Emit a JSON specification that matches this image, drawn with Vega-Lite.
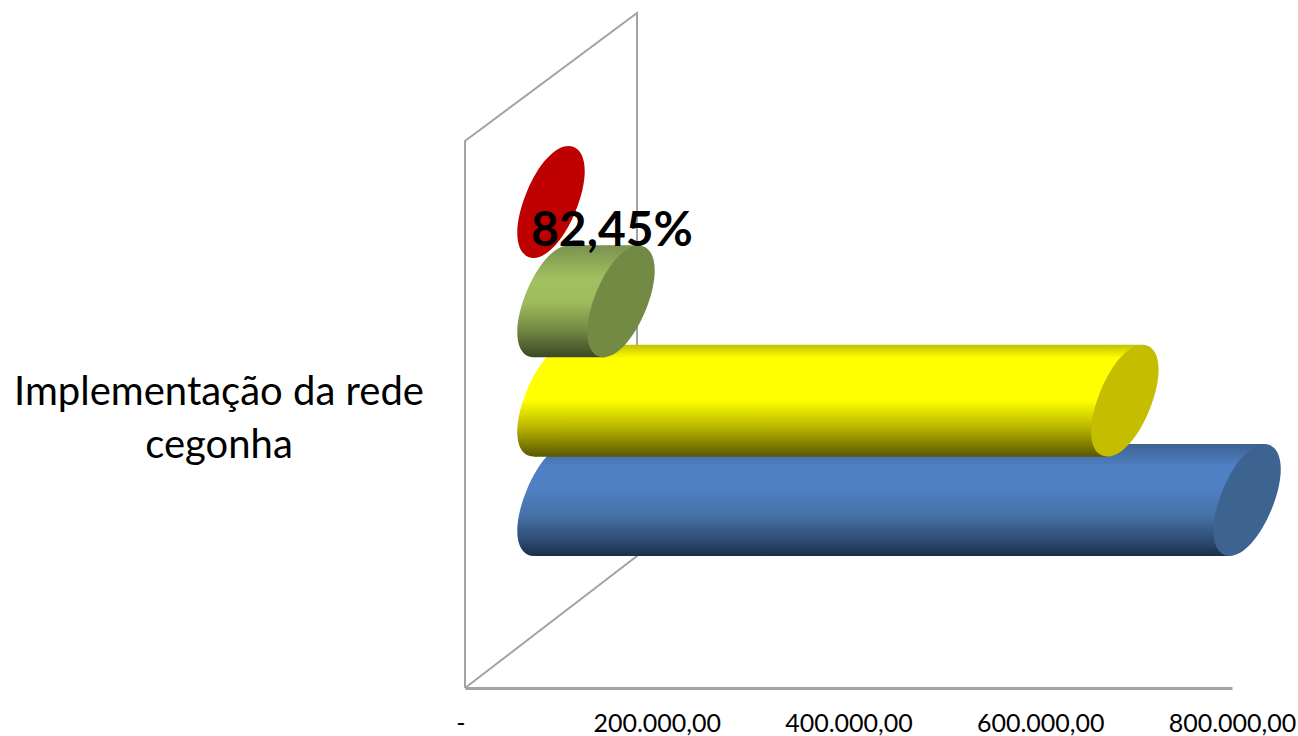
{"$schema":"https://vega.github.io/schema/vega-lite/v6.json","width":767,"height":688,"autosize":"none","padding":{"left":465,"top":0,"right":66,"bottom":48},"background":"white","view":{"stroke":null},"config":{"font":"Lato"},"datasets":{"bars":[{"serie":"Vermelho","valor":0},{"serie":"Verde","valor":73000},{"serie":"Amarelo","valor":598600},{"serie":"Azul","valor":726000}],"parede":[{"i":1,"x":0,"h":0},{"i":2,"x":0,"h":547},{"i":3,"x":179400,"h":675},{"i":4,"x":179400,"h":132},{"i":5,"x":0,"h":0}],"rotulos":[{"texto":"82,45%","x":153300,"h":456}],"categoria":[{"texto":"Implementação da rede\ncegonha","x":0,"h":295}]},"resolve":{"scale":{"y":"independent"}},"layer":[{"data":{"name":"parede"},"mark":{"type":"line","color":"#a3a3a3","strokeWidth":2,"interpolate":"linear"},"encoding":{"order":{"field":"i","type":"quantitative"},"x":{"field":"x","type":"quantitative","title":null,"scale":{"domain":[0,800000],"nice":false,"zero":false},"axis":{"values":[0,200000,400000,600000,800000],"grid":false,"ticks":false,"domain":true,"domainColor":"#a3a3a3","domainWidth":3,"labelFont":"Lato","labelFontSize":25,"labelColor":"#000000","labelPadding":23,"labelOverlap":false,"labelFlush":false,"labelAlign":{"condition":{"test":"datum.value==0","value":"right"},"value":"center"},"labelExpr":"datum.value==0?'-':(datum.value/1000)+'.000,00'"}},"y":{"field":"h","type":"quantitative","axis":null,"scale":{"domain":[0,688],"range":[688,0],"nice":false}}}},{"data":{"name":"bars"},"encoding":{"y":{"field":"serie","type":"nominal","axis":null,"scale":{"type":"point","domain":["Vermelho","Verde","Amarelo","Azul"],"range":[202,500],"padding":0}}},"layer":[{"transform":[{"filter":"datum.serie=='Azul'"}],"mark":{"type":"bar","orient":"horizontal","height":112,"xOffset":68,"x2Offset":104,"color":{"x1":0,"y1":0,"x2":0,"y2":1,"gradient":"linear","stops":[{"offset":0,"color":"#3d6292"},{"offset":0.2,"color":"#4f80c4"},{"offset":0.4,"color":"#4f80c4"},{"offset":0.65,"color":"#456fa5"},{"offset":0.85,"color":"#2f4e75"},{"offset":1,"color":"#1b2f4a"}]}},"encoding":{"x":{"field":"valor","type":"quantitative"},"x2":{"datum":0}}},{"transform":[{"filter":"datum.serie=='Azul'"}],"mark":{"type":"point","shape":"M0.3 -1L0.33 -1L0.33 1L-0.3 1Z","size":12544,"filled":true,"opacity":1,"strokeWidth":0,"xOffset":86,"color":{"x1":0,"y1":0,"x2":0,"y2":1,"gradient":"linear","stops":[{"offset":0,"color":"#3d6292"},{"offset":0.2,"color":"#4f80c4"},{"offset":0.4,"color":"#4f80c4"},{"offset":0.65,"color":"#456fa5"},{"offset":0.85,"color":"#2f4e75"},{"offset":1,"color":"#1b2f4a"}]}},"encoding":{"x":{"datum":0}}},{"transform":[{"filter":"datum.serie=='Azul'"}],"mark":{"type":"point","shape":"M-0.33 -1L0.3 -1L-0.3 1L-0.33 1Z","size":12544,"filled":true,"opacity":1,"strokeWidth":0,"xOffset":86,"color":{"x1":0,"y1":0,"x2":0,"y2":1,"gradient":"linear","stops":[{"offset":0,"color":"#3d6292"},{"offset":0.2,"color":"#4f80c4"},{"offset":0.4,"color":"#4f80c4"},{"offset":0.65,"color":"#456fa5"},{"offset":0.85,"color":"#2f4e75"},{"offset":1,"color":"#1b2f4a"}]}},"encoding":{"x":{"field":"valor","type":"quantitative"}}},{"transform":[{"filter":"datum.serie=='Azul'"}],"mark":{"type":"point","shape":"M0.406 -0.98C0.6571 -0.8762 0.6685 -0.3894 0.433 0.179C0.1975 0.7474 -0.1549 1.0838 -0.406 0.98C-0.6571 0.8762 -0.6685 0.3894 -0.433 -0.179C-0.1975 -0.7474 0.1549 -1.0838 0.406 -0.98Z","size":12544,"filled":true,"opacity":1,"strokeWidth":0,"xOffset":86,"color":{"x1":0,"y1":0,"x2":0,"y2":1,"gradient":"linear","stops":[{"offset":0,"color":"#3d6292"},{"offset":0.2,"color":"#4f80c4"},{"offset":0.4,"color":"#4f80c4"},{"offset":0.65,"color":"#456fa5"},{"offset":0.85,"color":"#2f4e75"},{"offset":1,"color":"#1b2f4a"}]}},"encoding":{"x":{"datum":0}}},{"transform":[{"filter":"datum.serie=='Azul'"}],"mark":{"type":"point","shape":"M0.406 -0.98C0.6571 -0.8762 0.6685 -0.3894 0.433 0.179C0.1975 0.7474 -0.1549 1.0838 -0.406 0.98C-0.6571 0.8762 -0.6685 0.3894 -0.433 -0.179C-0.1975 -0.7474 0.1549 -1.0838 0.406 -0.98Z","size":12544,"filled":true,"opacity":1,"strokeWidth":0,"xOffset":86,"color":"#3d6391"},"encoding":{"x":{"field":"valor","type":"quantitative"}}},{"transform":[{"filter":"datum.serie=='Amarelo'"}],"mark":{"type":"bar","orient":"horizontal","height":112,"xOffset":68,"x2Offset":104,"color":{"x1":0,"y1":0,"x2":0,"y2":1,"gradient":"linear","stops":[{"offset":0,"color":"#c4c000"},{"offset":0.12,"color":"#ffff00"},{"offset":0.5,"color":"#ffff00"},{"offset":0.75,"color":"#b5b200"},{"offset":1,"color":"#5a5600"}]}},"encoding":{"x":{"field":"valor","type":"quantitative"},"x2":{"datum":0}}},{"transform":[{"filter":"datum.serie=='Amarelo'"}],"mark":{"type":"point","shape":"M0.3 -1L0.33 -1L0.33 1L-0.3 1Z","size":12544,"filled":true,"opacity":1,"strokeWidth":0,"xOffset":86,"color":{"x1":0,"y1":0,"x2":0,"y2":1,"gradient":"linear","stops":[{"offset":0,"color":"#c4c000"},{"offset":0.12,"color":"#ffff00"},{"offset":0.5,"color":"#ffff00"},{"offset":0.75,"color":"#b5b200"},{"offset":1,"color":"#5a5600"}]}},"encoding":{"x":{"datum":0}}},{"transform":[{"filter":"datum.serie=='Amarelo'"}],"mark":{"type":"point","shape":"M-0.33 -1L0.3 -1L-0.3 1L-0.33 1Z","size":12544,"filled":true,"opacity":1,"strokeWidth":0,"xOffset":86,"color":{"x1":0,"y1":0,"x2":0,"y2":1,"gradient":"linear","stops":[{"offset":0,"color":"#c4c000"},{"offset":0.12,"color":"#ffff00"},{"offset":0.5,"color":"#ffff00"},{"offset":0.75,"color":"#b5b200"},{"offset":1,"color":"#5a5600"}]}},"encoding":{"x":{"field":"valor","type":"quantitative"}}},{"transform":[{"filter":"datum.serie=='Amarelo'"}],"mark":{"type":"point","shape":"M0.406 -0.98C0.6571 -0.8762 0.6685 -0.3894 0.433 0.179C0.1975 0.7474 -0.1549 1.0838 -0.406 0.98C-0.6571 0.8762 -0.6685 0.3894 -0.433 -0.179C-0.1975 -0.7474 0.1549 -1.0838 0.406 -0.98Z","size":12544,"filled":true,"opacity":1,"strokeWidth":0,"xOffset":86,"color":{"x1":0,"y1":0,"x2":0,"y2":1,"gradient":"linear","stops":[{"offset":0,"color":"#c4c000"},{"offset":0.12,"color":"#ffff00"},{"offset":0.5,"color":"#ffff00"},{"offset":0.75,"color":"#b5b200"},{"offset":1,"color":"#5a5600"}]}},"encoding":{"x":{"datum":0}}},{"transform":[{"filter":"datum.serie=='Amarelo'"}],"mark":{"type":"point","shape":"M0.406 -0.98C0.6571 -0.8762 0.6685 -0.3894 0.433 0.179C0.1975 0.7474 -0.1549 1.0838 -0.406 0.98C-0.6571 0.8762 -0.6685 0.3894 -0.433 -0.179C-0.1975 -0.7474 0.1549 -1.0838 0.406 -0.98Z","size":12544,"filled":true,"opacity":1,"strokeWidth":0,"xOffset":86,"color":"#c4bd00"},"encoding":{"x":{"field":"valor","type":"quantitative"}}},{"transform":[{"filter":"datum.serie=='Vermelho'"}],"mark":{"type":"point","shape":"M0.406 -0.98C0.6571 -0.8762 0.6685 -0.3894 0.433 0.179C0.1975 0.7474 -0.1549 1.0838 -0.406 0.98C-0.6571 0.8762 -0.6685 0.3894 -0.433 -0.179C-0.1975 -0.7474 0.1549 -1.0838 0.406 -0.98Z","size":12544,"filled":true,"opacity":1,"strokeWidth":0,"xOffset":86,"color":"#bf0000"},"encoding":{"x":{"field":"valor","type":"quantitative"}}},{"transform":[{"filter":"datum.serie=='Verde'"}],"mark":{"type":"bar","orient":"horizontal","height":112,"xOffset":68,"x2Offset":104,"color":{"x1":0,"y1":0,"x2":0,"y2":1,"gradient":"linear","stops":[{"offset":0,"color":"#7a9250"},{"offset":0.3,"color":"#a2c05f"},{"offset":0.5,"color":"#9fbc5c"},{"offset":0.75,"color":"#748a45"},{"offset":1,"color":"#3c4725"}]}},"encoding":{"x":{"field":"valor","type":"quantitative"},"x2":{"datum":0}}},{"transform":[{"filter":"datum.serie=='Verde'"}],"mark":{"type":"point","shape":"M0.3 -1L0.33 -1L0.33 1L-0.3 1Z","size":12544,"filled":true,"opacity":1,"strokeWidth":0,"xOffset":86,"color":{"x1":0,"y1":0,"x2":0,"y2":1,"gradient":"linear","stops":[{"offset":0,"color":"#7a9250"},{"offset":0.3,"color":"#a2c05f"},{"offset":0.5,"color":"#9fbc5c"},{"offset":0.75,"color":"#748a45"},{"offset":1,"color":"#3c4725"}]}},"encoding":{"x":{"datum":0}}},{"transform":[{"filter":"datum.serie=='Verde'"}],"mark":{"type":"point","shape":"M-0.33 -1L0.3 -1L-0.3 1L-0.33 1Z","size":12544,"filled":true,"opacity":1,"strokeWidth":0,"xOffset":86,"color":{"x1":0,"y1":0,"x2":0,"y2":1,"gradient":"linear","stops":[{"offset":0,"color":"#7a9250"},{"offset":0.3,"color":"#a2c05f"},{"offset":0.5,"color":"#9fbc5c"},{"offset":0.75,"color":"#748a45"},{"offset":1,"color":"#3c4725"}]}},"encoding":{"x":{"field":"valor","type":"quantitative"}}},{"transform":[{"filter":"datum.serie=='Verde'"}],"mark":{"type":"point","shape":"M0.406 -0.98C0.6571 -0.8762 0.6685 -0.3894 0.433 0.179C0.1975 0.7474 -0.1549 1.0838 -0.406 0.98C-0.6571 0.8762 -0.6685 0.3894 -0.433 -0.179C-0.1975 -0.7474 0.1549 -1.0838 0.406 -0.98Z","size":12544,"filled":true,"opacity":1,"strokeWidth":0,"xOffset":86,"color":{"x1":0,"y1":0,"x2":0,"y2":1,"gradient":"linear","stops":[{"offset":0,"color":"#7a9250"},{"offset":0.3,"color":"#a2c05f"},{"offset":0.5,"color":"#9fbc5c"},{"offset":0.75,"color":"#748a45"},{"offset":1,"color":"#3c4725"}]}},"encoding":{"x":{"datum":0}}},{"transform":[{"filter":"datum.serie=='Verde'"}],"mark":{"type":"point","shape":"M0.406 -0.98C0.6571 -0.8762 0.6685 -0.3894 0.433 0.179C0.1975 0.7474 -0.1549 1.0838 -0.406 0.98C-0.6571 0.8762 -0.6685 0.3894 -0.433 -0.179C-0.1975 -0.7474 0.1549 -1.0838 0.406 -0.98Z","size":12544,"filled":true,"opacity":1,"strokeWidth":0,"xOffset":86,"color":"#738a45"},"encoding":{"x":{"field":"valor","type":"quantitative"}}}]},{"data":{"name":"rotulos"},"mark":{"type":"text","font":"Lato","fontSize":48,"fontWeight":"bold","color":"#000000","align":"center","baseline":"middle"},"encoding":{"text":{"field":"texto"},"x":{"field":"x","type":"quantitative"},"y":{"field":"h","type":"quantitative","axis":null,"scale":{"domain":[0,688],"range":[688,0],"nice":false}}}},{"data":{"name":"categoria"},"mark":{"type":"text","font":"Lato","fontSize":40,"color":"#000000","align":"center","baseline":"middle","lineBreak":"\n","lineHeight":53,"xOffset":-246},"encoding":{"text":{"field":"texto"},"x":{"field":"x","type":"quantitative"},"y":{"field":"h","type":"quantitative","axis":null,"scale":{"domain":[0,688],"range":[688,0],"nice":false}}}}]}
